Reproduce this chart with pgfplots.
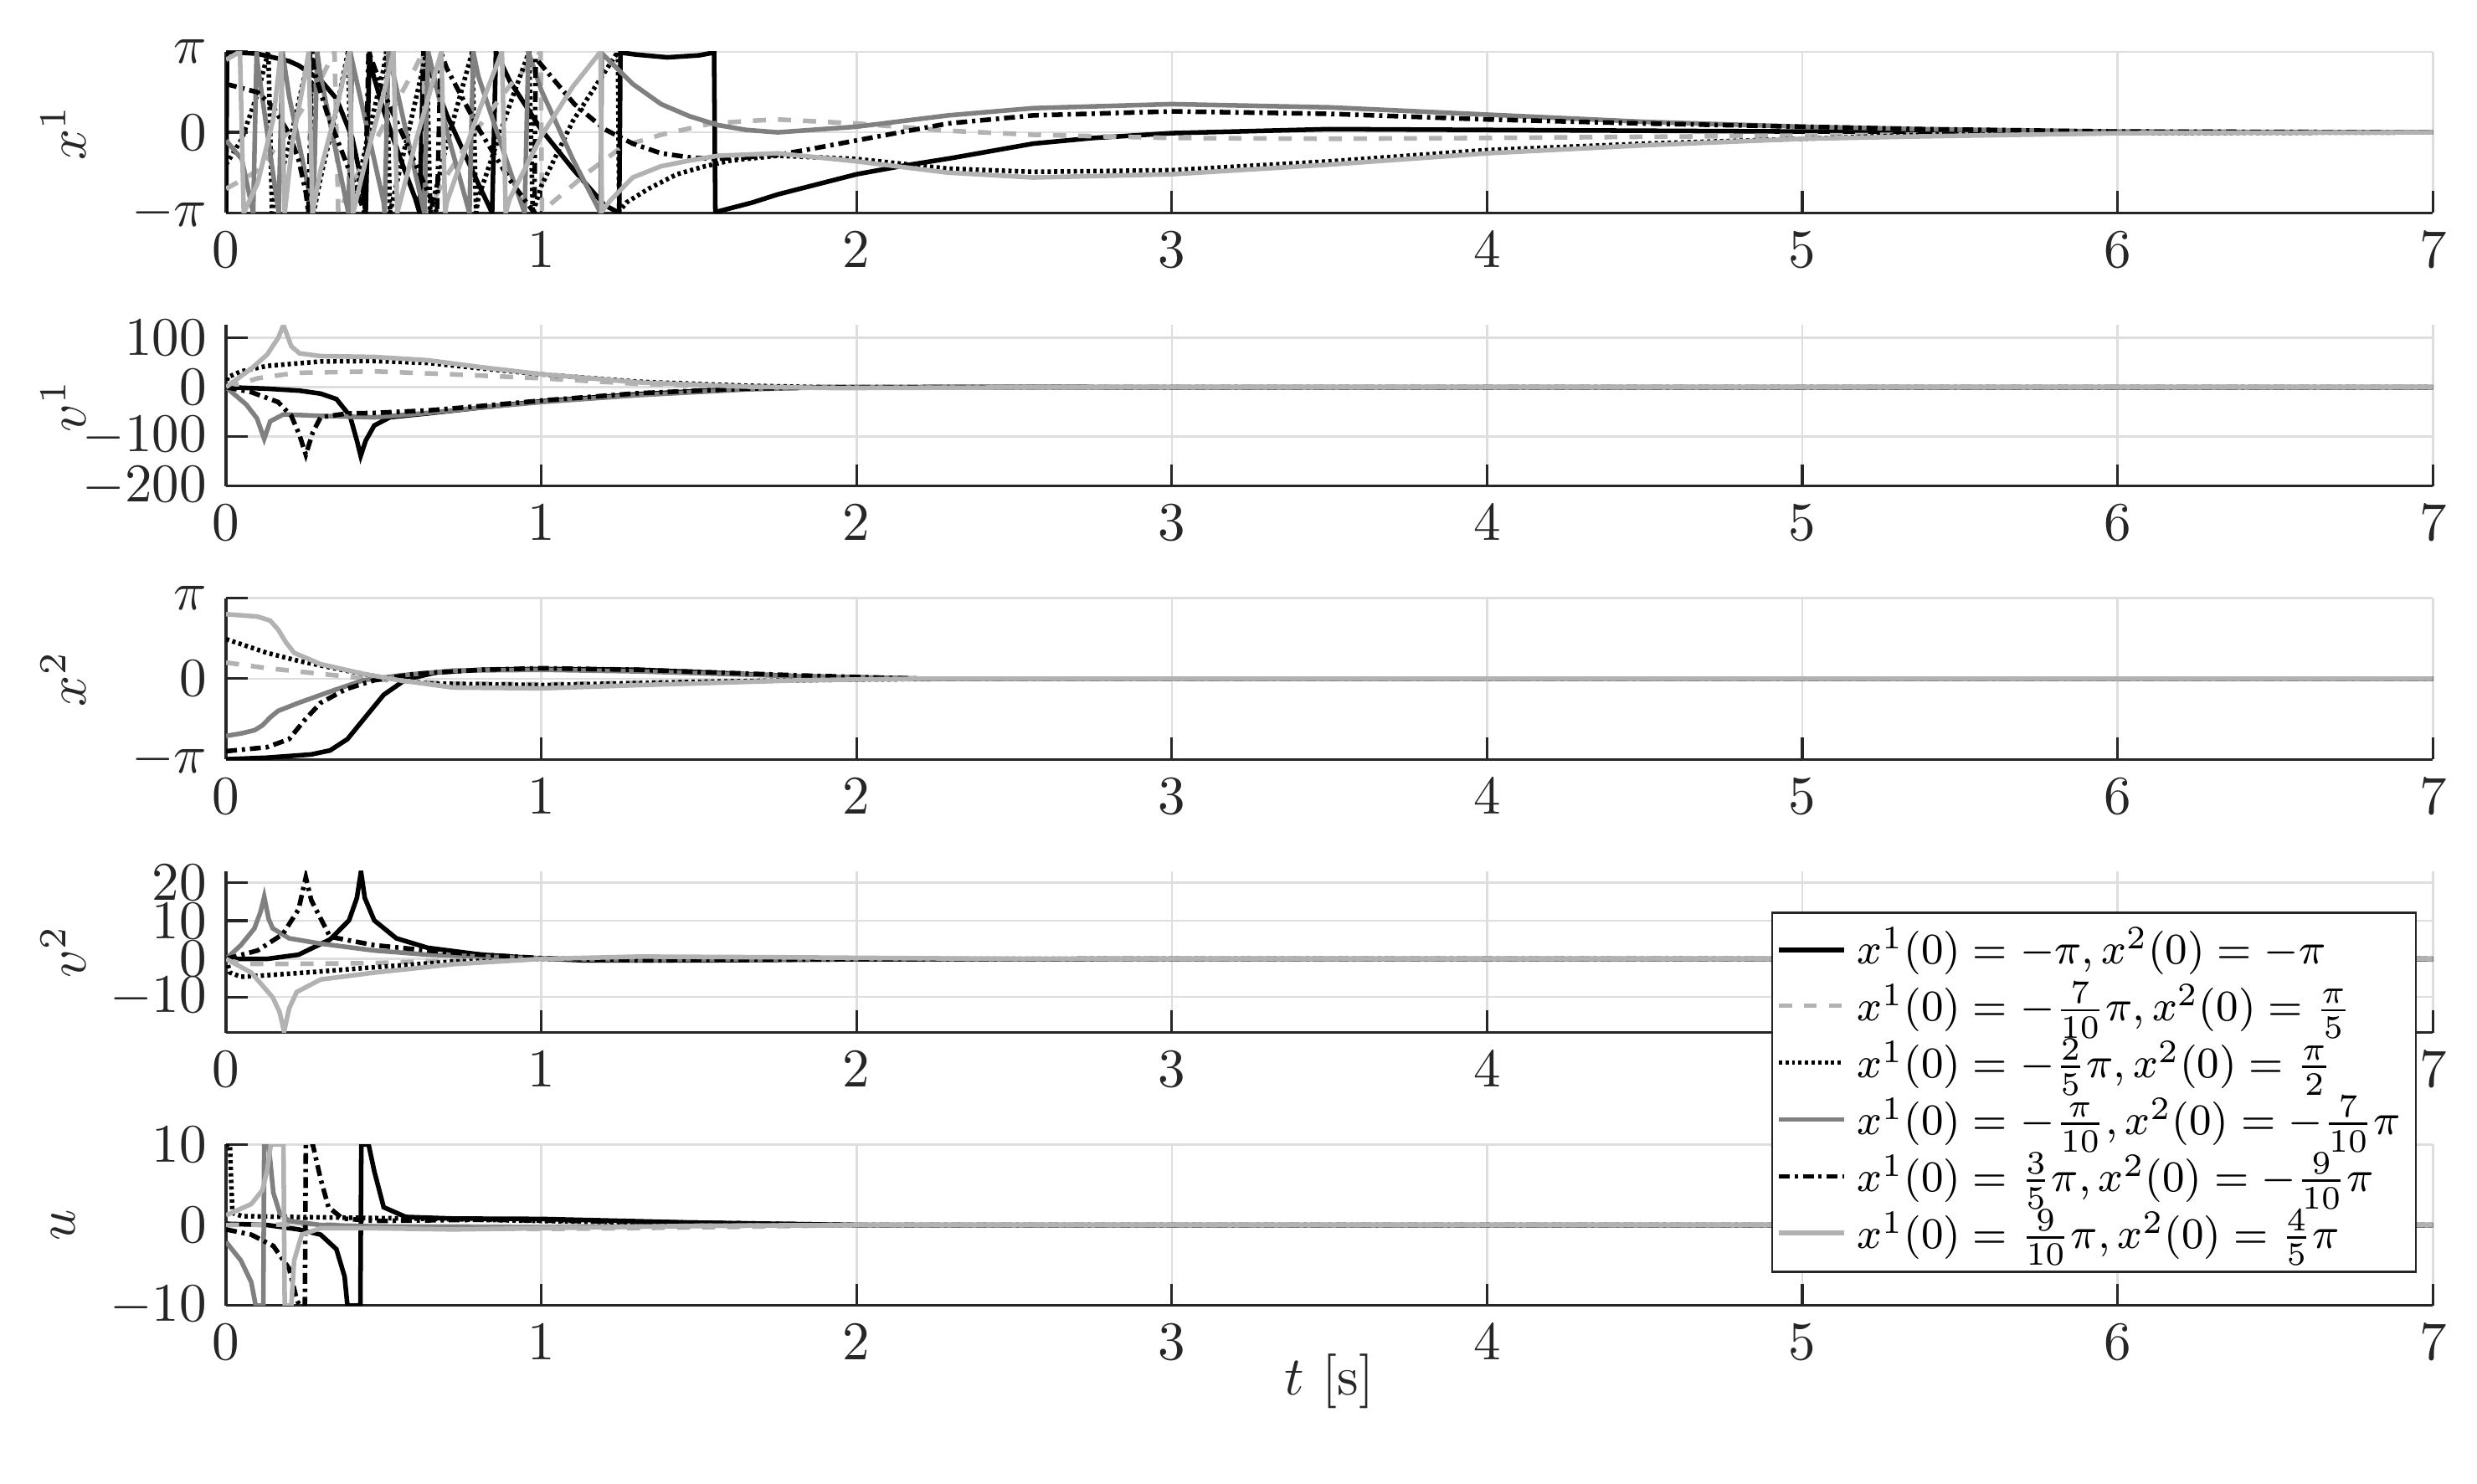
\documentclass[border=0pt]{standalone}
\usepackage{pgfplots}
\usepackage{graphicx}
\pgfplotsset{compat=1.18}
\definecolor{lg}{gray}{0.7}
\definecolor{mg}{gray}{0.5}
\definecolor{gridc}{gray}{0.87}
\definecolor{axc}{gray}{0.15}
\newcommand{\legtxt}[1]{\scalebox{0.96}[1]{#1}}
\pgfplotsset{
  myax/.style={
    scale only axis, width=405.1pt, height=29.6pt,
    xmin=0, xmax=7, xtick={0,1,2,3,4,5,6,7},
    axis x line*=bottom, axis y line*=left,
    tick align=inside, major tick length=4pt,
    grid=major, grid style={gridc, line width=0.4pt},
    axis line style={axc, line width=0.5pt},
    tick style={axc, line width=0.5pt},
    tick label style={text=axc},
    ylabel style={at={(axis description cs:-0.0737,0.5)}, anchor=center, text=axc},
  },
  s1/.style={black, line width=0.85pt, solid},
  s2/.style={lg, line width=0.85pt, dash pattern=on 2.4pt off 2.2pt},
  s3/.style={black, line width=0.85pt, dash pattern=on 0.6pt off 0.6pt},
  s4/.style={mg, line width=0.85pt, solid},
  s5/.style={black, line width=0.85pt, dash pattern=on 2pt off 0.9pt on 0.6pt off 0.9pt},
  s6/.style={lg, line width=0.85pt, solid},
}
\begin{document}
\begin{tikzpicture}
\path[use as bounding box] (-41.5pt,9.5pt) rectangle (413.2pt,-262.8pt);
% ---------------- x^1 ----------------
\begin{axis}[myax, at={(0pt,0pt)}, anchor=north west,
  ymin=-1, ymax=1, ytick={-1,0,1}, yticklabels={$-\pi$,$0$,$\pi$},
  ylabel={$x^1$}]
\addplot[s1] coordinates {(0,-1) (0.003,1) (0.1,0.975) (0.2,0.883) (0.23,0.83) (0.3,0.648) (0.35,0.418) (0.4,-0.064) (0.43,-0.617) (0.443,-1) (0.455,1) (0.46,0.806) (0.5,0.27) (0.55,-0.296) (0.6,-0.819) (0.614,-1) (0.626,1) (0.7,0.218) (0.8,-0.636) (0.844,-1) (0.856,1) (0.9,0.635) (1.0,0.032) (1.1,-0.454) (1.2,-0.9) (1.247,-1) (1.251,0.99) (1.3,0.965) (1.4,0.93) (1.5,0.955) (1.548,0.99) (1.552,-0.99) (1.67,-0.87) (1.75,-0.77) (2.0,-0.52) (2.14,-0.42) (2.3,-0.32) (2.56,-0.14) (2.75,-0.07) (3.0,-0.01) (3.5,0.04) (4.0,0.03) (5.0,0.01) (6.0,0.0) (7.0,0.0)};
\addplot[s2] coordinates {(0,-0.7) (0.1,-0.478) (0.2,0.025) (0.3,0.657) (0.344,1) (0.356,-1) (0.4,-0.641) (0.5,0.085) (0.6,0.799) (0.625,1) (0.637,-1) (0.7,-0.535) (0.8,0.062) (0.9,0.577) (0.998,1) (1.002,-0.98) (1.15,-0.49) (1.26,-0.17) (1.38,-0.03) (1.54,0.11) (1.67,0.144) (1.75,0.16) (2.0,0.11) (2.29,0.02) (2.56,-0.03) (3.0,-0.07) (3.5,-0.08) (4.0,-0.07) (5.0,-0.04) (6.0,-0.01) (7.0,0)};
\addplot[s3] coordinates {(0,-0.4) (0.05,-0.081) (0.1,0.482) (0.134,1) (0.146,-1) (0.15,-0.871) (0.2,-0.157) (0.266,1) (0.278,-1) (0.3,-0.561) (0.35,0.279) (0.387,1) (0.399,-1) (0.45,-0.05) (0.5,0.79) (0.508,1) (0.52,-1) (0.6,0.378) (0.636,1) (0.648,-1) (0.7,-0.144) (0.781,1) (0.793,-1) (0.8,-0.816) (0.9,0.343) (0.961,1) (0.973,-1) (1.0,-0.666) (1.1,0.14) (1.243,1) (1.247,-0.98) (1.27,-0.87) (1.34,-0.70) (1.43,-0.52) (1.52,-0.42) (1.6,-0.35) (1.75,-0.29) (2.0,-0.33) (2.29,-0.45) (2.56,-0.49) (3.0,-0.47) (3.5,-0.36) (4.0,-0.22) (4.5,-0.14) (5.0,-0.08) (5.38,-0.03) (6.0,-0.01) (7.0,0)};
\addplot[s4] coordinates {(0,-0.1) (0.05,-0.333) (0.086,-1) (0.097,1) (0.1,0.85) (0.123,0.211) (0.15,-0.541) (0.167,-1) (0.179,1) (0.2,0.448) (0.277,-1) (0.289,1) (0.3,0.691) (0.388,-1) (0.4,0.887) (0.5,-0.87) (0.503,-1) (0.515,1) (0.6,-0.503) (0.629,-1) (0.641,1) (0.7,0.02) (0.772,-1) (0.784,1) (0.8,0.698) (0.9,-0.468) (0.947,-1) (0.959,1) (1.0,0.521) (1.1,-0.334) (1.188,-1) (1.192,0.98) (1.29,0.6) (1.38,0.35) (1.47,0.2) (1.56,0.09) (1.65,0.03) (1.75,0.0) (2.0,0.07) (2.29,0.21) (2.56,0.30) (3.0,0.35) (3.5,0.31) (4.0,0.22) (4.5,0.13) (5.0,0.07) (5.38,0.04) (6.0,0.01) (7.0,0)};
\addplot[s5] coordinates {(0,0.6) (0.1,0.497) (0.15,0.312) (0.2,-0.018) (0.23,-0.339) (0.253,-0.746) (0.261,-1) (0.273,1) (0.28,0.753) (0.32,0.242) (0.4,-0.569) (0.44,-1) (0.452,1) (0.5,0.5) (0.6,-0.382) (0.669,-1) (0.681,1) (0.7,0.794) (0.8,0.052) (0.9,-0.59) (0.978,-1) (0.982,0.92) (1.105,0.35) (1.2,0.04) (1.29,-0.14) (1.38,-0.26) (1.47,-0.31) (1.54,-0.33) (1.65,-0.31) (1.75,-0.28) (1.85,-0.21) (2.0,-0.10) (2.29,0.11) (2.56,0.21) (3.0,0.26) (3.5,0.23) (4.0,0.16) (4.5,0.11) (5.0,0.07) (5.38,0.04) (6.0,0.01) (7.0,0)};
\addplot[s6] coordinates {(0,0.9) (0.044,1) (0.056,-1) (0.1,-0.632) (0.15,0.17) (0.174,1) (0.186,-1) (0.21,-0.13) (0.25,0.704) (0.262,1) (0.274,-1) (0.3,-0.468) (0.35,0.288) (0.391,1) (0.403,-1) (0.45,-0.235) (0.5,0.486) (0.531,1) (0.543,-1) (0.6,-0.137) (0.683,1) (0.695,-1) (0.7,-0.868) (0.8,0.242) (0.875,1) (0.887,-1) (0.9,-0.823) (1.0,-0.048) (1.1,0.567) (1.188,1) (1.192,-0.98) (1.22,-0.84) (1.29,-0.56) (1.38,-0.42) (1.47,-0.35) (1.56,-0.29) (1.75,-0.26) (2.0,-0.36) (2.29,-0.50) (2.56,-0.56) (3.0,-0.52) (3.5,-0.40) (4.0,-0.26) (4.5,-0.16) (5.0,-0.08) (5.38,-0.05) (6.0,-0.01) (7.0,0)};
\end{axis}
% ---------------- v^1 ----------------
\begin{axis}[myax, at={(0pt,-50.15pt)}, anchor=north west,
  ymin=-200, ymax=126, ytick={-200,-100,0,100},
  ylabel={$v^1$}]
\addplot[s1] coordinates {(0,0) (0.13,-3) (0.233,-7) (0.3,-13) (0.35,-24) (0.393,-58) (0.415,-108) (0.427,-139) (0.443,-108) (0.47,-77.5) (0.52,-60.7) (0.64,-53) (0.81,-41) (1.0,-28.6) (1.31,-14) (1.65,-3) (1.9,0) (2.5,0.3) (3,0) (7,0)};
\addplot[s2] coordinates {(0,0) (0.05,8) (0.1,18) (0.22,29) (0.47,32) (0.72,26) (1.0,18) (1.31,6.7) (1.65,1.1) (1.9,0) (7,0)};
\addplot[s3] coordinates {(0,0) (0.005,20) (0.047,32) (0.13,43) (0.3,52) (0.47,53) (0.64,49) (0.81,38) (1.0,26) (1.31,11) (1.65,3) (1.9,0) (7,0)};
\addplot[s4] coordinates {(0,0) (0.064,-35) (0.098,-63) (0.121,-104.5) (0.14,-69) (0.182,-55) (0.3,-58) (0.47,-61) (0.64,-52) (0.81,-41) (1.0,-30) (1.31,-16) (1.65,-4.5) (1.9,0) (7,0)};
\addplot[s5] coordinates {(0,0) (0.08,-10) (0.165,-30) (0.207,-58) (0.233,-97) (0.253,-136.5) (0.275,-91.6) (0.3,-60.7) (0.385,-53) (0.47,-52) (0.64,-47) (0.81,-38) (1.0,-27) (1.31,-12) (1.65,-3) (1.9,0) (7,0)};
\addplot[s6] coordinates {(0,0) (0.08,37.6) (0.13,65.7) (0.165,99.4) (0.182,125.5) (0.207,82.6) (0.233,68.5) (0.3,62.9) (0.47,61.2) (0.64,54.5) (0.81,40.4) (1.0,26.4) (1.31,9.6) (1.65,1.1) (1.93,-1.7) (2.5,-0.5) (3,0) (7,0)};
\end{axis}
% ---------------- x^2 ----------------
\begin{axis}[myax, at={(0pt,-100.3pt)}, anchor=north west,
  ymin=-1, ymax=1, ytick={-1,0,1}, yticklabels={$-\pi$,$0$,$\pi$},
  ylabel={$x^2$}]
\addplot[s1] coordinates {(0,-1) (0.13,-0.98) (0.27,-0.94) (0.33,-0.89) (0.385,-0.75) (0.435,-0.51) (0.5,-0.2) (0.57,-0.01) (0.67,0.08) (0.81,0.11) (1.0,0.12) (1.31,0.11) (1.82,0.03) (2.2,0.0) (7,0)};
\addplot[s2] coordinates {(0,0.2) (0.13,0.13) (0.3,0.06) (0.47,-0.01) (0.72,-0.06) (1.0,-0.07) (1.31,-0.05) (1.82,-0.02) (2.2,0) (7,0)};
\addplot[s3] coordinates {(0,0.49) (0.13,0.32) (0.23,0.22) (0.38,0.10) (0.5,0.01) (0.64,-0.06) (1.0,-0.08) (1.48,-0.04) (2.0,-0.01) (2.4,0) (7,0)};
\addplot[s4] coordinates {(0,-0.71) (0.047,-0.68) (0.09,-0.64) (0.115,-0.58) (0.14,-0.48) (0.165,-0.40) (0.23,-0.30) (0.33,-0.16) (0.435,-0.02) (0.55,0.04) (0.72,0.10) (1.0,0.11) (1.31,0.09) (1.82,0.03) (2.2,0) (7,0)};
\addplot[s5] coordinates {(0,-0.9) (0.13,-0.85) (0.2,-0.75) (0.25,-0.51) (0.3,-0.30) (0.38,-0.13) (0.47,-0.02) (0.6,0.06) (0.81,0.11) (1.0,0.13) (1.31,0.11) (1.82,0.04) (2.2,0) (7,0)};
\addplot[s6] coordinates {(0,0.8) (0.1,0.77) (0.14,0.72) (0.165,0.61) (0.19,0.45) (0.216,0.32) (0.3,0.18) (0.435,0.06) (0.55,-0.02) (0.72,-0.11) (1.0,-0.12) (1.31,-0.08) (1.82,-0.02) (2.2,0) (7,0)};
\end{axis}
% ---------------- v^2 ----------------
\begin{axis}[myax, at={(0pt,-150.45pt)}, anchor=north west,
  ymin=-19.3, ymax=23, ytick={-10,0,10,20},
  ylabel={$v^2$}]
\addplot[s1] coordinates {(0,0) (0.13,0) (0.23,1.1) (0.33,5.1) (0.39,10.1) (0.415,16) (0.428,22.9) (0.44,16) (0.47,10.1) (0.54,5.4) (0.64,2.9) (0.81,1.1) (1.0,0.1) (1.14,-0.4) (1.48,-0.4) (2.0,-0.1) (3,0) (7,0)};
\addplot[s2] coordinates {(0,0) (0.047,-1.3) (0.22,-1.3) (0.47,-1.1) (0.72,-0.4) (1.0,0) (7,0)};
\addplot[s3] coordinates {(0,0) (0.013,-3.6) (0.047,-4.7) (0.13,-4.3) (0.3,-3.3) (0.47,-2.2) (0.72,-0.7) (1.0,0) (1.3,0.3) (2,0) (7,0)};
\addplot[s4] coordinates {(0,0) (0.047,3.6) (0.09,8) (0.11,12.5) (0.121,16.3) (0.135,10.5) (0.148,8) (0.2,5.4) (0.3,4) (0.47,2.2) (0.64,1.1) (1.0,0.1) (1.3,-0.3) (2,0) (7,0)};
\addplot[s5] coordinates {(0,0) (0.1,2.2) (0.18,6.5) (0.23,13) (0.253,21.4) (0.27,15.5) (0.28,13.8) (0.33,5.8) (0.47,3.6) (0.64,2.2) (0.81,1.1) (1.0,0.2) (1.31,-0.4) (2,-0.1) (3,0) (7,0)};
\addplot[s6] coordinates {(0,0) (0.08,-3.6) (0.148,-10.1) (0.17,-14) (0.184,-19.1) (0.2,-13) (0.224,-8.7) (0.3,-5.4) (0.47,-3.6) (0.72,-1.4) (1.0,0) (1.31,0.6) (1.8,0.4) (2.5,0) (7,0)};
\end{axis}
% ---------------- u ----------------
\begin{axis}[myax, at={(0pt,-200.6pt)}, anchor=north west,
  ymin=-10, ymax=10, ytick={-10,0,10},
  ylabel={$u$},
  xlabel={$t$ [s]},
  xlabel style={at={(axis description cs:0.5,-0.47)}, anchor=center, text=axc},
  legend style={at={(axis description cs:0.9928,2.445)}, anchor=north east,
    draw=axc, line width=0.4pt, fill=white, inner sep=0.8pt,
    font=\fontsize{8.4}{8.6}\selectfont,
    cells={anchor=west}, row sep=-2.2pt},
  legend image code/.code={\draw[#1] (0cm,0cm) -- (0.42cm,0cm);}]
\addplot[s1] coordinates {(0,0.15) (0.13,0) (0.23,-0.55) (0.3,-1.2) (0.35,-3) (0.376,-6.4) (0.385,-10) (0.426,-10) (0.429,10) (0.452,10) (0.47,6.7) (0.5,2.2) (0.57,1.0) (0.72,0.8) (1.0,0.75) (1.48,0.3) (2.0,0) (7,0)};
\addlegendentry{\legtxt{$x^1(0)=-\pi, x^2(0)=-\pi$}}
\addplot[s2] coordinates {(0,0) (0.3,0.1) (0.5,-0.3) (1.0,-0.5) (1.5,-0.3) (2.0,0) (7,0)};
\addlegendentry{\legtxt{$x^1(0)=-\frac{7}{10}\pi, x^2(0)=\frac{\pi}{5}$}}
\addplot[s3] coordinates {(0,10) (0.012,10) (0.02,1.5) (0.05,1.1) (0.2,1.0) (0.4,0.9) (0.6,0.8) (1.0,0.5) (1.5,0.2) (2,0) (7,0)};
\addlegendentry{\legtxt{$x^1(0)=-\frac{2}{5}\pi, x^2(0)=\frac{\pi}{2}$}}
\addplot[s4] coordinates {(0,-2.1) (0.047,-4.4) (0.08,-7.1) (0.094,-10) (0.118,-10) (0.121,10) (0.135,10) (0.15,4) (0.17,1.5) (0.2,0.5) (0.3,0) (0.5,-0.2) (1.0,-0.3) (1.5,-0.1) (2,0) (7,0)};
\addlegendentry{\legtxt{$x^1(0)=-\frac{\pi}{10}, x^2(0)=-\frac{7}{10}\pi$}}
\addplot[s5] coordinates {(0,-0.55) (0.08,-1.2) (0.15,-2.6) (0.2,-5.4) (0.224,-9.2) (0.233,-10) (0.25,-10) (0.253,10) (0.275,10) (0.3,5.7) (0.325,2.2) (0.37,0.8) (0.47,0.5) (0.81,0.65) (1.0,0.55) (1.48,0.3) (2,0) (7,0)};
\addlegendentry{\legtxt{$x^1(0)=\frac{3}{5}\pi, x^2(0)=-\frac{9}{10}\pi$}}
\addplot[s6] coordinates {(0,1.2) (0.08,2.6) (0.115,4.3) (0.13,6.7) (0.142,10) (0.182,10) (0.186,-10) (0.207,-10) (0.216,-4.4) (0.24,-1.2) (0.3,-0.4) (0.47,-0.4) (0.72,-0.55) (1.0,-0.4) (1.48,-0.1) (2,0) (7,0)};
\addlegendentry{\legtxt{$x^1(0)=\frac{9}{10}\pi, x^2(0)=\frac{4}{5}\pi$}}
\end{axis}
\end{tikzpicture}
\end{document}
